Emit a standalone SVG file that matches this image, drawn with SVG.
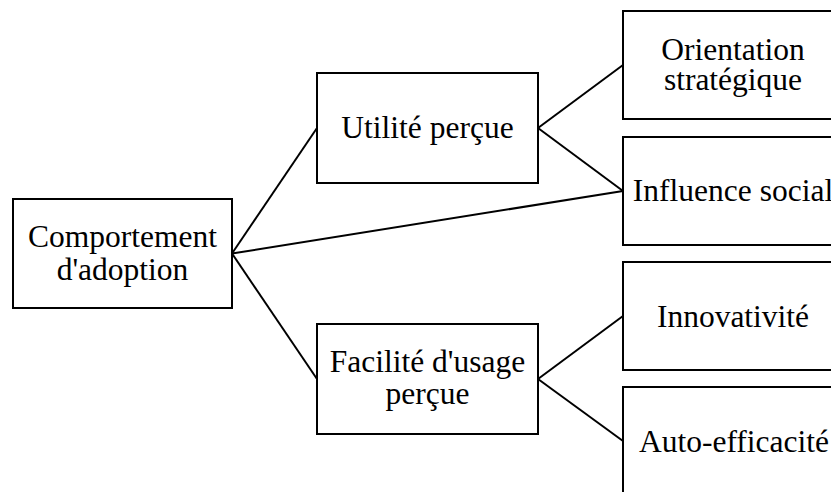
<svg xmlns="http://www.w3.org/2000/svg" width="831" height="492" viewBox="0 0 831 492">
  <style>
    .box { fill: #ffffff; stroke: #000000; stroke-width: 2; }
    .lbl { font-family: 'Liberation Serif', serif; font-size: 31.5px; fill: #000000; text-anchor: middle; }
    .link { stroke: #000000; stroke-width: 2; fill: none; }
  </style>
  <rect width="831" height="492" fill="#ffffff"/>

  <g id="connectors">
    <line class="link" x1="232" y1="253.5" x2="317" y2="128"/>
    <line class="link" x1="232" y1="253.5" x2="317" y2="379"/>
    <line class="link" x1="232" y1="253.5" x2="623" y2="191"/>
    <line class="link" x1="538" y1="128" x2="623" y2="65"/>
    <line class="link" x1="538" y1="128" x2="623" y2="191"/>
    <line class="link" x1="538" y1="379" x2="623" y2="316"/>
    <line class="link" x1="538" y1="379" x2="623" y2="441"/>
  </g>

  <g id="comportement">
    <rect class="box" x="13" y="199" width="219" height="109"/>
    <text class="lbl" x="122.5" y="247">Comportement</text>
    <text class="lbl" x="122.5" y="280">d'adoption</text>
  </g>

  <g id="utilite">
    <rect class="box" x="317" y="73" width="221" height="110"/>
    <text class="lbl" x="427.5" y="138">Utilité perçue</text>
  </g>

  <g id="facilite">
    <rect class="box" x="317" y="324" width="221" height="110"/>
    <text class="lbl" x="427.5" y="372">Facilité d'usage</text>
    <text class="lbl" x="427.5" y="404">perçue</text>
  </g>

  <g id="orientation">
    <rect class="box" x="623" y="11" width="220" height="108"/>
    <text class="lbl" x="733" y="60">Orientation</text>
    <text class="lbl" x="733" y="90">stratégique</text>
  </g>

  <g id="influence">
    <rect class="box" x="623" y="137" width="220" height="108"/>
    <text class="lbl" x="733" y="201">Influence social</text>
  </g>

  <g id="innovativite">
    <rect class="box" x="623" y="262" width="220" height="108"/>
    <text class="lbl" x="733" y="327">Innovativité</text>
  </g>

  <g id="auto-efficacite">
    <rect class="box" x="623" y="387" width="220" height="110"/>
    <text class="lbl" x="734" y="452">Auto-efficacité</text>
  </g>
</svg>
